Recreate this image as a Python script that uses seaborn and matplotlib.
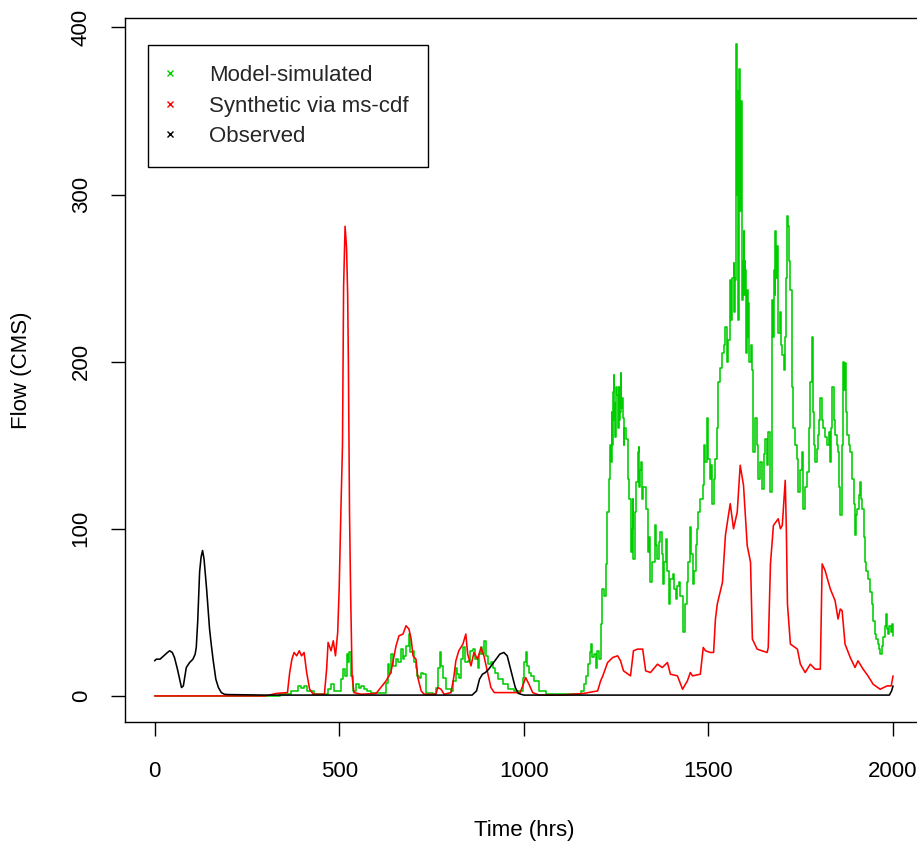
import matplotlib
matplotlib.use("Agg")
import matplotlib.pyplot as plt
from matplotlib.lines import Line2D
import seaborn as sns
import pandas as pd

# ---- Hourly flow series (hours, flow in CMS) ----
model_hours = [
    0, 320, 340, 370, 389, 397, 405, 412, 432, 459,
    470, 478, 487, 497, 505, 511, 515, 520, 524, 527,
    532, 538, 545, 553, 560, 567, 575, 586, 622, 628,
    632, 636, 640, 647, 654, 660, 668, 672, 676, 682,
    689, 693, 700, 704, 708, 712, 716, 722, 727, 735,
    754, 763, 768, 773, 777, 781, 789, 803, 808, 816,
    820, 824, 830, 835, 840, 849, 855, 862, 869, 876,
    880, 884, 888, 892, 897, 903, 910, 916, 923, 930,
    943, 957, 973, 990, 997, 1001, 1005, 1010, 1014, 1020,
    1027, 1041, 1060, 1119, 1154, 1162, 1168, 1173, 1178, 1181,
    1185, 1190, 1195, 1199, 1204, 1208, 1213, 1218, 1222, 1226,
    1230, 1233, 1236, 1238, 1240, 1241, 1242, 1243, 1244, 1246,
    1247, 1249, 1251, 1253, 1255, 1257, 1259, 1260, 1262, 1263,
    1265, 1268, 1270, 1272, 1276, 1281, 1285, 1289, 1292, 1295,
    1297, 1301, 1305, 1308, 1311, 1313, 1315, 1317, 1319, 1324,
    1330, 1335, 1339, 1343, 1348, 1354, 1358, 1362, 1366, 1370,
    1374, 1378, 1381, 1384, 1388, 1392, 1397, 1403, 1407, 1411,
    1415, 1419, 1424, 1430, 1432, 1437, 1443, 1446, 1449, 1453,
    1459, 1462, 1465, 1469, 1473, 1478, 1484, 1489, 1492, 1495,
    1500, 1505, 1508, 1511, 1515, 1519, 1523, 1527, 1532, 1538,
    1541, 1546, 1550, 1554, 1559, 1561, 1563, 1565, 1568, 1570,
    1571, 1573, 1575, 1576, 1577, 1578, 1579, 1581, 1582, 1584,
    1586, 1587, 1589, 1590, 1592, 1593, 1595, 1597, 1598, 1600,
    1602, 1603, 1605, 1607, 1608, 1611, 1614, 1617, 1622, 1627,
    1631, 1635, 1640, 1646, 1650, 1654, 1659, 1662, 1668, 1671,
    1673, 1675, 1677, 1679, 1681, 1684, 1686, 1689, 1693, 1697,
    1700, 1704, 1708, 1711, 1714, 1716, 1719, 1722, 1725, 1727,
    1730, 1735, 1741, 1743, 1748, 1754, 1757, 1762, 1768, 1772,
    1776, 1780, 1783, 1786, 1789, 1794, 1797, 1800, 1803, 1807,
    1811, 1816, 1822, 1826, 1830, 1833, 1835, 1839, 1843, 1847,
    1851, 1854, 1857, 1861, 1865, 1867, 1870, 1873, 1876, 1880,
    1884, 1889, 1893, 1897, 1900, 1903, 1907, 1911, 1914, 1916,
    1920, 1924, 1928, 1932, 1937, 1943, 1947, 1951, 1955, 1959,
    1962, 1965, 1969, 1973, 1977, 1981, 1984, 1986, 1990, 1994,
    1997, 2000,
]
model_flow = [
    0, 0, 1, 3, 6, 5, 6, 3, 1, 1,
    4, 7, 3, 3, 10, 16, 12, 25, 20, 26,
    12, 3, 7, 5, 6, 4, 3, 2, 2, 8,
    19, 14, 25, 18, 22, 20, 28, 22, 24, 30,
    37, 26, 27, 20, 17, 12, 11, 14, 13, 2,
    1, 5, 17, 26, 18, 11, 4, 3, 9, 17,
    13, 11, 22, 29, 20, 21, 27, 28, 22, 17,
    25, 29, 25, 33, 24, 19, 20, 17, 14, 10,
    7, 4, 3, 3, 11, 20, 26, 18, 14, 12,
    9, 3, 1, 1, 3, 7, 12, 19, 26, 31,
    23, 25, 17, 27, 22, 43, 64, 60, 79, 110,
    130, 150, 140, 170, 150, 160, 182, 192, 165, 175,
    155, 166, 185, 180, 160, 185, 165, 170, 193, 172,
    178, 166, 150, 160, 154, 130, 118, 86, 100, 118,
    82, 110, 128, 146, 149, 125, 135, 140, 118, 125,
    112, 86, 95, 68, 80, 102, 90, 82, 92, 98,
    85, 67, 80, 94, 75, 55, 70, 73, 64, 58,
    66, 68, 60, 52, 38, 55, 68, 80, 101, 85,
    67, 75, 90, 100, 110, 118, 126, 150, 140, 166,
    142, 130, 138, 115, 130, 142, 160, 188, 196, 205,
    210, 221, 200, 213, 249, 225, 235, 250, 259, 230,
    250, 249, 280, 390, 300, 362, 260, 225, 330, 375,
    290, 340, 356, 270, 237, 260, 278, 240, 260, 255,
    215, 205, 243, 215, 235, 200, 210, 195, 146, 166,
    150, 130, 140, 124, 145, 154, 138, 158, 122, 170,
    237, 215, 255, 240, 278, 250, 269, 217, 230, 210,
    204, 195, 215, 250, 287, 281, 260, 243, 200, 185,
    160, 150, 142, 122, 135, 146, 112, 125, 134, 160,
    188, 215, 170, 150, 140, 148, 156, 165, 178, 165,
    160, 155, 150, 158, 140, 160, 185, 165, 156, 150,
    146, 125, 108, 150, 200, 183, 199, 170, 156, 150,
    146, 130, 115, 96, 108, 112, 120, 128, 118, 112,
    95, 80, 75, 70, 62, 55, 45, 37, 34, 31,
    28, 25, 30, 35, 42, 49, 40, 37, 42, 38,
    43, 36,
]

synthetic_hours = [
    0, 300, 330, 360, 366, 372, 378, 385, 392, 398, 405, 412, 420, 430, 460, 466, 470, 478, 484, 490,
    496, 500, 505, 509, 512, 516, 520, 523, 525, 528, 531, 535, 540, 560, 600, 627, 640, 654, 662, 673,
    681, 689, 695, 700, 708, 713, 722, 730, 762, 767, 776, 784, 803, 811, 816, 824, 835, 843, 848, 857,
    865, 875, 884, 892, 903, 911, 920, 990, 997, 1005, 1014, 1024, 1041, 1100, 1162, 1200, 1208, 1214, 1227, 1241,
    1254, 1262, 1270, 1289, 1297, 1308, 1322, 1330, 1343, 1362, 1375, 1389, 1397, 1416, 1430, 1443, 1451, 1457, 1478, 1486,
    1492, 1505, 1514, 1519, 1524, 1538, 1546, 1552, 1559, 1568, 1578, 1586, 1595, 1605, 1614, 1619, 1632, 1645, 1659, 1662,
    1668, 1676, 1689, 1695, 1700, 1708, 1711, 1714, 1722, 1741, 1749, 1762, 1776, 1789, 1803, 1808, 1816, 1830, 1843, 1851,
    1857, 1862, 1870, 1884, 1897, 1905, 1919, 1932, 1946, 1965, 1984, 1995, 2000,
]
synthetic_flow = [
    0, 0, 1.5, 2, 14, 22, 26, 24, 27, 24, 26, 14, 4, 1, 1, 16, 32, 27, 33, 24,
    38, 64, 114, 150, 245, 281, 268, 240, 199, 110, 62, 12, 2, 1, 1.5, 9, 14, 30, 36, 37,
    42, 40, 34, 24, 22, 11, 3, 1, 1, 5, 4, 1, 2, 12, 21, 27, 31, 37, 25, 18,
    26, 22, 29, 24, 13, 5, 2, 2, 6, 11, 7, 2, 0.5, 0.5, 1.5, 3, 9, 12, 20, 23,
    24, 21, 15, 12, 27, 28, 28, 15, 14, 19, 17, 20, 13, 12, 4, 9, 14, 12, 13, 29,
    27, 26, 26, 46, 55, 68, 96, 105, 115, 100, 110, 138, 126, 90, 80, 34, 28, 27, 26, 29,
    79, 102, 106, 100, 102, 129, 100, 55, 31, 28, 19, 14, 19, 16, 16, 79, 75, 64, 57, 46,
    52, 51, 31, 23, 17, 21, 16, 12, 7, 4, 6, 6, 12,
]

observed_hours = [
    0, 5, 15, 25, 35, 41, 48, 54, 62, 68, 73, 78, 86, 95, 104, 110, 113, 117, 122, 126,
    130, 134, 141, 149, 154, 159, 166, 173, 181, 189, 200, 300, 860, 872, 880, 888, 896, 905, 915, 925,
    935, 946, 955, 962, 970, 977, 985, 1000, 1990, 1996, 2000,
]
observed_flow = [
    21, 22, 22, 24, 26, 27, 26, 23, 16, 10, 5, 6, 17, 20, 22, 25, 29, 45, 74, 83,
    87, 82, 64, 40, 30, 21, 10, 5, 2, 1, 0.8, 0.5, 0.5, 3, 10, 13, 14, 16, 19, 22,
    25, 26, 24, 18, 11, 5, 1.5, 0.5, 0.5, 3, 6,
]

series_names = ["Model-simulated", "Synthetic via ms-cdf", "Observed"]
series_colors = ["#00CD00", "#FF0000", "#000000"]
series_draw = ["steps-post", "default", "default"]
x_ticks = [0, 500, 1000, 1500, 2000]
y_ticks = [0, 100, 200, 300, 400]

sns.set_style("ticks")
plt.rcParams["font.family"] = ["Liberation Sans", "DejaVu Sans"]
plt.rcParams["font.size"] = 16

fig = plt.figure(figsize=(9.17, 8.43), dpi=100)
W, H = 917, 843
ax = fig.add_axes([125 / W, 1 - 722 / H, 797.6 / W, 704 / H])

frames = [
    pd.DataFrame({"hrs": model_hours, "flow": model_flow}),
    pd.DataFrame({"hrs": synthetic_hours, "flow": synthetic_flow}),
    pd.DataFrame({"hrs": observed_hours, "flow": observed_flow}),
]
for df, color, ds in zip(frames, series_colors, series_draw):
    sns.lineplot(data=df, x="hrs", y="flow", color=color, linewidth=1.15,
                 estimator=None, sort=False, ax=ax, legend=False,
                 drawstyle=ds)

ax.set_xlim(-80, 2080)
ax.set_ylim(-15.6, 405.6)
ax.set_xticks(x_ticks)
ax.set_yticks(y_ticks)
ax.set_xticklabels([str(v) for v in x_ticks])
ax.set_yticklabels([str(v) for v in y_ticks], rotation=90, va="center")
ax.tick_params(axis="both", direction="out", length=10, width=1.0,
               color="black", labelcolor="black", labelsize=16)
ax.tick_params(axis="x", pad=18)
ax.tick_params(axis="y", pad=14)
for sp in ax.spines.values():
    sp.set_visible(True)
    sp.set_color("black")
    sp.set_linewidth(1.0)

ax.set_xlabel("Time (hrs)", fontsize=16, color="black")
ax.set_ylabel("Flow (CMS)", fontsize=16, color="black")
ax.xaxis.set_label_coords(0.5, -0.139)
ax.yaxis.set_label_coords(-0.1166, 0.5)

handles = [Line2D([], [], linestyle="none", marker="x", markersize=4,
                  markeredgewidth=1.0, color=c) for c in series_colors]
leg = ax.legend(handles, series_names, loc="upper left",
                bbox_to_anchor=(0.0288, 0.9616), borderaxespad=0,
                frameon=True, fancybox=False, framealpha=1,
                edgecolor="black", fontsize=16, handlelength=0.2,
                handletextpad=1.63, borderpad=0.9, labelspacing=0.43)
leg.get_frame().set_linewidth(1.0)

fig.savefig("out.png", dpi=100, facecolor="white")
